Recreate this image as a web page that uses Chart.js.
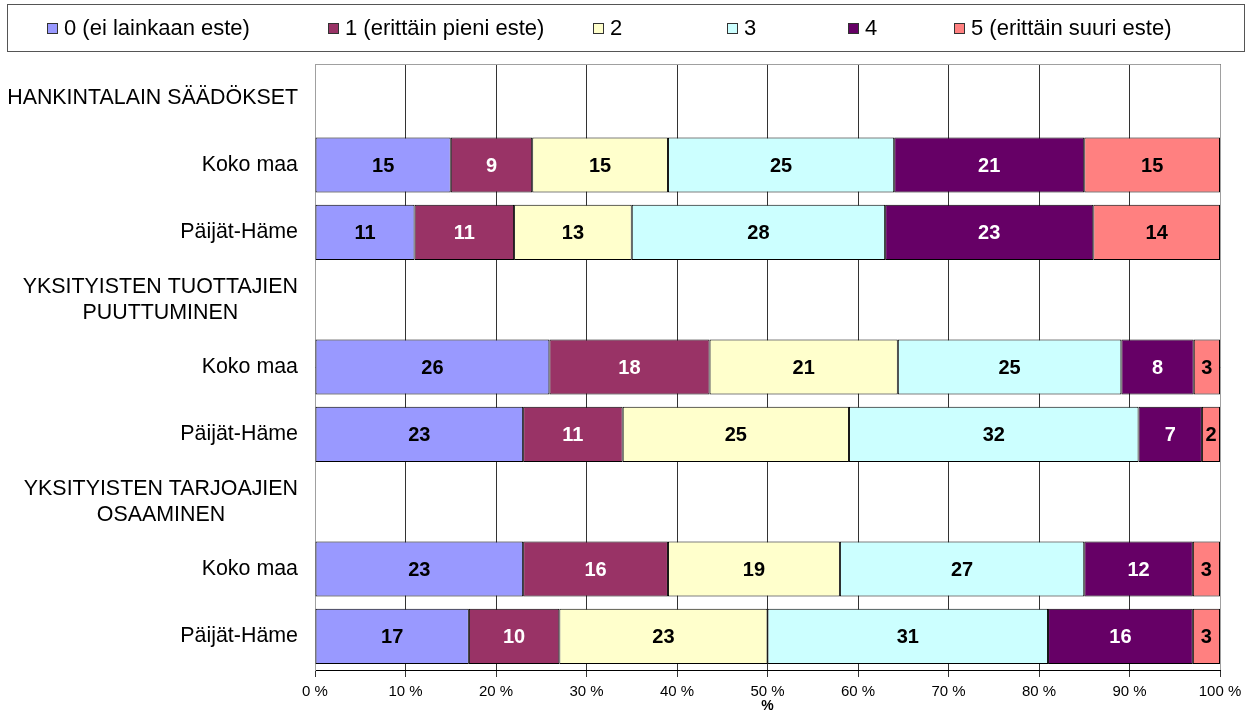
<!DOCTYPE html>
<html>
<head>
<meta charset="utf-8">
<script src="https://cdn.jsdelivr.net/npm/chart.js@4.4.1/dist/chart.umd.min.js"></script>
<style>
  html, body { margin: 0; padding: 0; background: #fff; }
</style>
</head>
<body>
<canvas id="chart" width="1259" height="715"></canvas>
<script>
// Categories (group headers have no bars)
const categories = [
    ["HANKINTALAIN SÄÄDÖKSET"], "Koko maa", "Päijät-Häme",
    ["YKSITYISTEN TUOTTAJIEN", "PUUTTUMINEN"], "Koko maa", "Päijät-Häme",
    ["YKSITYISTEN TARJOAJIEN", "OSAAMINEN"], "Koko maa", "Päijät-Häme"
];

const seriesNames = ["0 (ei lainkaan este)", "1 (erittäin pieni este)", "2", "3", "4", "5 (erittäin suuri este)"];
const seriesColors = ["#9999FF", "#993366", "#FFFFCC", "#CCFFFF", "#660066", "#FF8080"];
const labelColors = ["#000", "#fff", "#000", "#000", "#fff", "#000"];

// Percentages
const level0 = [null, 15, 11, null, 25.9, 23, null, 23, 17];
const level1 = [null, 9, 11, null, 17.7, 11, null, 16, 10];
const level2 = [null, 15, 13, null, 20.8, 25, null, 19, 23];
const level3 = [null, 25, 28, null, 24.7, 32, null, 27, 31];
const level4 = [null, 21, 23, null, 8.0, 7, null, 12, 16];
const level5 = [null, 15, 14, null, 2.9, 2, null, 3, 3];

const xTicks = [0, 10, 20, 30, 40, 50, 60, 70, 80, 90, 100];

const seriesValues = [level0, level1, level2, level3, level4, level5];

// legend square positions (left edge)
const legendX = [47, 328, 593, 727, 848, 954];

const FONT = "'Liberation Sans', Arial, sans-serif";

// Draws legend box, plot border, category labels and value labels
const decorPlugin = {
    id: "decor",
    afterDraw(chart) {
        const ctx = chart.ctx;
        const area = chart.chartArea;
        ctx.save();

        // plot border top / right
        ctx.strokeStyle = "#a0a0a0";
        ctx.lineWidth = 1;
        ctx.beginPath();
        ctx.moveTo(area.left, area.top + 0.5);
        ctx.lineTo(area.right + 0.5, area.top + 0.5);
        ctx.lineTo(area.right + 0.5, area.bottom);
        ctx.stroke();

        // legend
        ctx.strokeStyle = "#555";
        ctx.strokeRect(7.5, 4.5, 1237, 47);
        ctx.font = "22px " + FONT;
        ctx.textBaseline = "middle";
        ctx.textAlign = "left";
        seriesNames.forEach((name, i) => {
            const x = legendX[i];
            ctx.fillStyle = seriesColors[i];
            ctx.fillRect(x, 23, 11, 11);
            ctx.strokeStyle = "#333";
            ctx.strokeRect(x + 0.5, 23.5, 10, 10);
            ctx.fillStyle = "#000";
            ctx.fillText(name, x + 17, 29);
        });

        // category labels: block right aligned, lines centered
        const yScale = chart.scales.y;
        ctx.font = "21.4px " + FONT;
        ctx.textAlign = "center";
        ctx.fillStyle = "#000";
        categories.forEach((lab, i) => {
            const lines = Array.isArray(lab) ? lab : [lab];
            const w = Math.max(...lines.map(l => ctx.measureText(l).width));
            const cx = 298 - w / 2;
            const cy = yScale.getPixelForValue(i);
            const lh = 26;
            lines.forEach((l, j) => {
                ctx.fillText(l, cx, cy + (j - (lines.length - 1) / 2) * lh);
            });
        });

        // value labels
        ctx.font = "bold 20px " + FONT;
        chart.data.datasets.forEach((ds, di) => {
            const meta = chart.getDatasetMeta(di);
            meta.data.forEach((bar, i) => {
                const v = ds.data[i];
                if (v == null) return;
                ctx.fillStyle = labelColors[di];
                ctx.fillText(Math.round(v), (bar.x + bar.base) / 2, bar.y + 1);
            });
        });
        ctx.restore();
    }
};

const ctx = document.getElementById("chart").getContext("2d");
new Chart(ctx, {
    type: "bar",
    data: {
        labels: categories,
        datasets: seriesNames.map((name, i) => ({
            label: name,
            data: seriesValues[i],
            backgroundColor: seriesColors[i],
            borderColor: "#000",
            borderWidth: 1,
            borderSkipped: false,
            barPercentage: 0.82,
            categoryPercentage: 1
        }))
    },
    options: {
        indexAxis: "y",
        responsive: false,
        devicePixelRatio: 1,
        animation: false,
        layout: { padding: { top: 64, right: 39, left: 0, bottom: 0 } },
        plugins: {
            legend: { display: false },
            tooltip: { enabled: false }
        },
        scales: {
            x: {
                stacked: true,
                min: 0,
                max: 100,
                afterBuildTicks: (s) => { s.ticks = xTicks.map(v => ({ value: v })); },
                afterFit: (s) => { s.height = 45; },
                grid: { color: "#333", tickLength: 7 },
                border: { color: "#000" },
                ticks: {
                    padding: 6,
                    color: "#000",
                    font: { family: FONT, size: 15 },
                    callback: (v) => v + " %"
                },
                title: {
                    display: true,
                    text: "%",
                    color: "#000",
                    padding: 0,
                    font: { family: FONT, size: 14, weight: "bold" }
                }
            },
            y: {
                stacked: true,
                afterFit: (s) => { s.width = 315; },
                grid: { display: false },
                border: { color: "#a0a0a0" },
                ticks: { display: false }
            }
        }
    },
    plugins: [decorPlugin]
});
</script>
</body>
</html>
